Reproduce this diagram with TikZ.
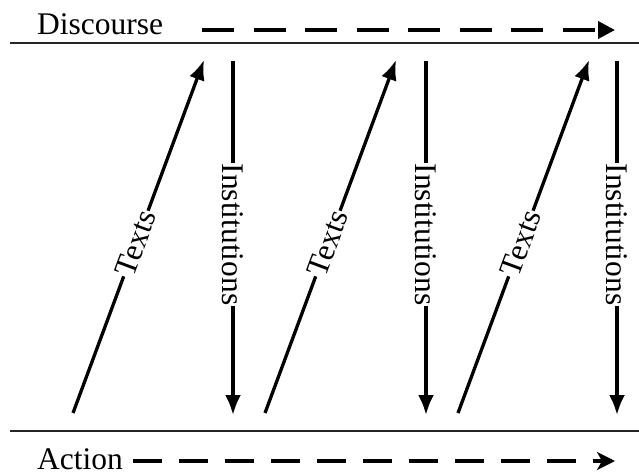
\documentclass[tikz,border=0pt]{standalone}
\usepackage{fontspec}
\setmainfont{Liberation Serif}
\usetikzlibrary{arrows.meta}
\begin{document}
\begin{tikzpicture}[x=1pt,y=-1pt,
  big/.style={font=\fontsize{31.5}{36}\selectfont},
  rule/.style={line width=2.8pt,draw=black!85},
  flow/.style={line width=3.3pt,-{Latex[length=20pt,width=16pt]}},
  lab/.style={big,fill=white,inner sep=1pt,sloped},
  dsh/.style={line width=3.8pt}]
\useasboundingbox (0,0) rectangle (639,473);
% frame lines
\coordinate (tl) at (10,43); \coordinate (tr) at (639,43);
\coordinate (bl) at (10,431); \coordinate (br) at (639,431);
\draw[rule] (tl) -- (tr);
\draw[rule] (bl) -- (br);
% headings
\node[big,anchor=base west,inner sep=0] (disc) at (37,35) {Discourse};
\node[big,anchor=base west,inner sep=0] (act) at (37,469) {Action};
\coordinate (d1) at (202,30); \coordinate (d2) at (615,30);
\draw[dsh,dash pattern=on 32pt off 19.5pt,-{Triangle[length=17pt,width=17pt]}] (d1) -- (d2);
\coordinate (a1) at (133,461); \coordinate (a2) at (615,461);
\draw[dsh,dash pattern=on 29pt off 17pt,-{Stealth[length=18pt,width=18pt,inset=5pt]}] (a1) -- (a2);
% texts arrows
\foreach \i/\bx/\tx in {1/73/204, 2/265/396, 3/458/589} {
  \coordinate (tb\i) at (\bx,413);
  \coordinate (tt\i) at (\tx,60);
  \draw[flow] (tb\i) -- node[lab,pos=0.48] {Texts} (tt\i);
}
% institutions arrows
\foreach \i/\x in {1/233, 2/426, 3/617} {
  \coordinate (it\i) at (\x,61);
  \coordinate (ib\i) at (\x,415);
  \draw[flow] (it\i) -- node[lab,pos=0.49] {Institutions} (ib\i);
}
\end{tikzpicture}
\end{document}
